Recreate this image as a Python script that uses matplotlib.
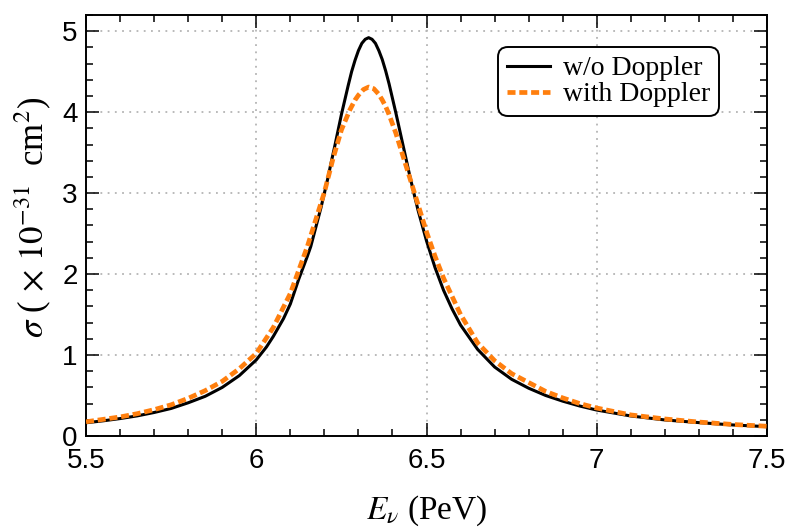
import matplotlib
matplotlib.use("Agg")
import matplotlib.pyplot as plt
from matplotlib.ticker import MultipleLocator

# Energy (PeV) and cross sections (x 1e-31 cm^2)
E_black = [5.50, 5.55, 5.60, 5.65, 5.70, 5.75, 5.80, 5.85, 5.90, 5.95, 6.00, 6.03,
           6.05, 6.08, 6.10, 6.125, 6.15, 6.16, 6.175, 6.19, 6.20, 6.21, 6.22, 6.23,
           6.24, 6.25, 6.26, 6.27, 6.28, 6.29, 6.30, 6.31, 6.32, 6.33, 6.34, 6.35,
           6.36, 6.37, 6.38, 6.39, 6.40, 6.41, 6.42, 6.43, 6.44, 6.45, 6.46, 6.475,
           6.50, 6.525, 6.55, 6.575, 6.60, 6.625, 6.65, 6.70, 6.75, 6.80, 6.85,
           6.90, 6.95, 7.00, 7.10, 7.20, 7.30, 7.40, 7.50]
sigma_black = [0.163, 0.187, 0.215, 0.248, 0.29, 0.34, 0.41, 0.49, 0.60, 0.745, 0.94, 1.10,
               1.23, 1.45, 1.63, 1.94, 2.22, 2.34, 2.58, 2.82, 3.0, 3.18, 3.38, 3.57,
               3.77, 3.97, 4.15, 4.33, 4.50, 4.64, 4.76, 4.85, 4.90, 4.92, 4.90, 4.85,
               4.76, 4.65, 4.51, 4.35, 4.17, 3.99, 3.80, 3.61, 3.42, 3.23, 3.05, 2.79,
               2.41, 2.08, 1.80, 1.57, 1.37, 1.22, 1.07, 0.852, 0.70, 0.59, 0.50,
               0.43, 0.37, 0.32, 0.247, 0.198, 0.165, 0.136, 0.115]

E_doppler = [5.50, 5.55, 5.60, 5.65, 5.70, 5.75, 5.80, 5.85, 5.90, 5.95, 6.00, 6.05,
             6.10, 6.15, 6.20, 6.225, 6.25, 6.275, 6.29, 6.30, 6.315, 6.33, 6.345, 6.36,
             6.37, 6.38, 6.39, 6.41, 6.43, 6.45, 6.475, 6.50, 6.525, 6.55, 6.60, 6.65,
             6.70, 6.75, 6.80, 6.85, 6.90, 6.95, 7.00, 7.10, 7.20, 7.30, 7.40, 7.50]
sigma_doppler = [0.175, 0.205, 0.235, 0.275, 0.325, 0.385, 0.465, 0.56, 0.675, 0.83, 1.02, 1.34,
                 1.76, 2.34, 3.01, 3.42, 3.78, 4.03, 4.15, 4.21, 4.28, 4.31, 4.29, 4.22,
                 4.15, 4.07, 3.97, 3.74, 3.47, 3.20, 2.86, 2.52, 2.22, 1.95, 1.50, 1.15,
                 0.93, 0.77, 0.66, 0.55, 0.47, 0.40, 0.345, 0.26, 0.21, 0.172, 0.142, 0.12]

labels = ["w/o Doppler", "with Doppler"]
xticks = [5.5, 6, 6.5, 7, 7.5]
xticklabels = ["5.5", "6", "6.5", "7", "7.5"]
yticks = [0, 1, 2, 3, 4, 5]

plt.rcParams["mathtext.fontset"] = "stix"

fig = plt.figure(figsize=(7.9, 5.32), dpi=100)
ax = fig.add_axes([0.1089, 0.1805, 0.862, 0.7913])

ax.plot(E_black, sigma_black, color="black", lw=2.2, label=labels[0], zorder=3)
ax.plot(E_doppler, sigma_doppler, color="#ff7f0e", lw=3.4, ls=(0, (1.7, 0.8)),
        label=labels[1], zorder=4)

ax.set_xlim(5.5, 7.5)
ax.set_ylim(0, 5.2)
ax.set_xticks(xticks)
ax.set_xticklabels(xticklabels)
ax.set_yticks(yticks)
ax.xaxis.set_minor_locator(MultipleLocator(0.1))
ax.yaxis.set_minor_locator(MultipleLocator(0.2))

ax.tick_params(which="both", direction="in", top=True, right=True, width=1.1,
               labelsize=20, labelfontfamily="Liberation Sans")
ax.tick_params(which="major", length=9.5)
ax.tick_params(which="minor", length=5)
ax.tick_params(axis="x", which="major", pad=9)
ax.tick_params(axis="y", which="major", pad=6)
for s in ax.spines.values():
    s.set_linewidth(1.4)

ax.grid(True, which="major", color="#b4b4b4", ls=(0, (1, 3)), lw=1.3)

ax.set_xlabel(r"$E_{\nu}$ (PeV)", fontsize=24, family="Liberation Serif")
ax.xaxis.set_label_coords(0.5, -0.178)
ax.xaxis.label.set_verticalalignment("center")
ax.set_ylabel(r"$\sigma$ ( $\times$ $10^{-31}$  cm$^2$)", fontsize=25,
              family="Liberation Serif")
ax.yaxis.set_label_coords(-0.078, 0.52)
ax.yaxis.label.set_verticalalignment("center")

leg = ax.legend(loc="upper right", bbox_to_anchor=(0.9295, 0.924),
                prop={"family": "Liberation Serif", "size": 20}, frameon=True,
                fancybox=True, edgecolor="black", framealpha=1, handlelength=1.55,
                handletextpad=0.45, borderpad=0.32, labelspacing=0.02,
                borderaxespad=0)
leg.get_frame().set_linewidth(1.4)
leg.get_frame().set_boxstyle("round,pad=0,rounding_size=0.35")

fig.savefig("out.png", dpi=100)
